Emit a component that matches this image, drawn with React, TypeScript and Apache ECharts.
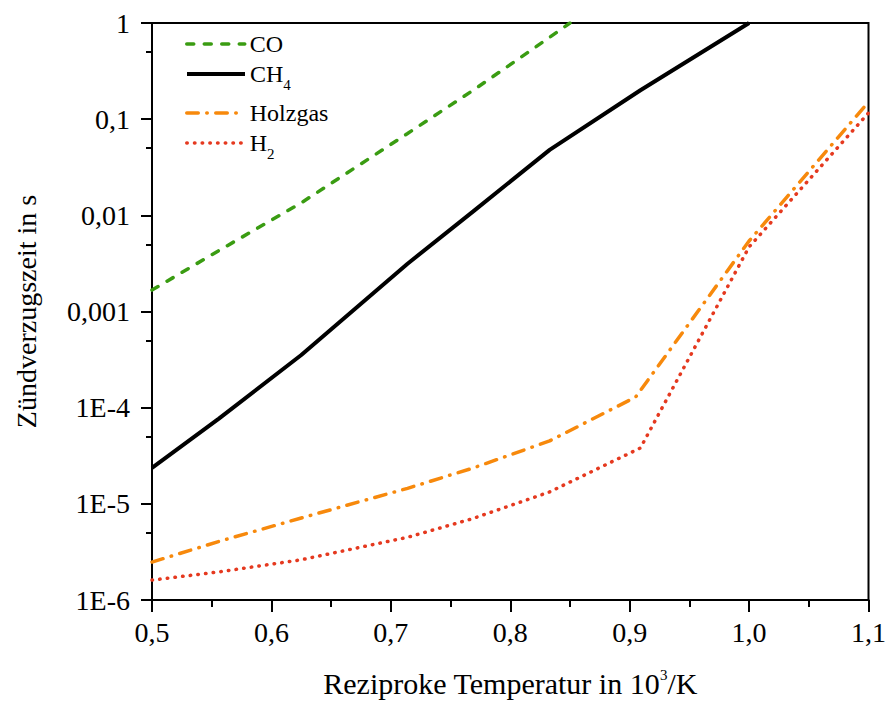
import React, { useEffect, useRef } from 'react';
import * as echarts from 'echarts';

// ---- data (x = reciprocal temperature in 10^3/K, y = ignition delay in s)
const xCO = [0.5, 0.556, 0.625, 0.714, 0.769, 0.833, 0.85];
const yCO = [0.00167, 0.0043, 0.0135, 0.071, 0.2, 0.71, 1.0];
const xCH4 = [0.5, 0.556, 0.625, 0.714, 0.769, 0.833, 0.909, 1.0];
const yCH4 = [2.36e-5, 7.7e-5, 3.53e-4, 3.14e-3, 0.011, 0.048, 0.2, 1.0];
const xHolzgas = [0.5, 0.556, 0.625, 0.714, 0.769, 0.833, 0.905, 1.0, 1.1];
const yHolzgas = [2.48e-6, 4.06e-6, 7.13e-6, 1.45e-5, 2.36e-5, 4.51e-5, 1.29e-4, 5.41e-3, 0.151];
const xH2 = [0.5, 0.556, 0.625, 0.714, 0.769, 0.833, 0.909, 1.0, 1.1];
const yH2 = [1.61e-6, 1.96e-6, 2.62e-6, 4.49e-6, 7.05e-6, 1.33e-5, 3.81e-5, 4.69e-3, 0.116];

const yMinorTicks = [5e-6, 5e-5, 5e-4, 5e-3, 0.05, 0.5];

const seriesNames = ['CO', 'CH4', 'Holzgas', 'H2'];
const legendLabels: Record<string, string> = {
  CO: 'CO',
  CH4: '{m|CH}{s|4}',
  Holzgas: 'Holzgas',
  H2: '{m|H}{s|2}',
};
const legendTops = [32, 62, 101, 131];

const FONT = 'Liberation Serif';

const pairs = (xs: number[], ys: number[]) => xs.map((x, i) => [x, ys[i]]);

function yLabel(v: number): string {
  const e = Math.round(Math.log10(v));
  if (e === 0) return '1';
  if (e >= -3) return '0,' + '0'.repeat(-e - 1) + '1';
  return '1E' + e;
}

export default function App() {
  const ref = useRef<HTMLDivElement>(null);

  useEffect(() => {
    if (!ref.current) return;
    const chart = echarts.init(ref.current, undefined, { renderer: 'svg' });

    const styles: Record<string, any> = {
      CO: { color: '#3a9c12', width: 3.5, type: [7, 10.5], cap: 'round' },
      CH4: { color: '#000000', width: 4, type: 'solid', cap: 'butt' },
      Holzgas: { color: '#f7890c', width: 3.5, type: [11.5, 8.5, 0.5, 8.5], cap: 'round' },
      H2: { color: '#e5391f', width: 3.5, type: [0.5, 7.2], cap: 'round' },
    };
    const dataMap: Record<string, number[][]> = {
      CO: pairs(xCO, yCO),
      CH4: pairs(xCH4, yCH4),
      Holzgas: pairs(xHolzgas, yHolzgas),
      H2: pairs(xH2, yH2),
    };

    const rich = {
      m: { fontFamily: FONT, fontSize: 24, color: '#000', verticalAlign: 'middle' },
      s: { fontFamily: FONT, fontSize: 15, color: '#000', verticalAlign: 'middle', padding: [22, 0, 0, 0] },
    };

    const option: any = {
      animation: false,
      backgroundColor: '#fff',
      textStyle: { fontFamily: FONT },
      grid: {
        left: 152,
        right: 17,
        top: 23,
        bottom: 104,
        show: true,
        borderColor: '#000',
        borderWidth: 2,
        backgroundColor: 'transparent',
      },
      legend: seriesNames.map((n, i) => ({
        data: [n],
        left: 185,
        top: legendTops[i],
        orient: 'vertical',
        padding: 0,
        itemGap: 0,
        itemWidth: 58,
        itemHeight: 14,
        selectedMode: false,
        itemStyle: { opacity: 0 },
        lineStyle: { width: styles[n].width },
        formatter: (name: string) => legendLabels[name],
        textStyle: { fontFamily: FONT, fontSize: 24, color: '#000', rich },
      })),
      xAxis: [
        {
          type: 'value',
          min: 0.5,
          max: 1.1,
          interval: 0.1,
          position: 'bottom',
          axisLine: { onZero: false, lineStyle: { color: '#000', width: 2 } },
          axisTick: { show: true, length: 12, lineStyle: { color: '#000', width: 2 } },
          minorTick: { show: true, splitNumber: 2, length: 7, lineStyle: { color: '#000', width: 2 } },
          splitLine: { show: false },
          minorSplitLine: { show: false },
          axisLabel: {
            fontFamily: FONT,
            fontSize: 28,
            color: '#000',
            margin: 18,
            formatter: (v: number) => v.toFixed(1).replace('.', ','),
          },
          name: 'Reziproke Temperatur in 10{sup|3}/K',
          nameLocation: 'middle',
          nameGap: 67,
          nameTextStyle: {
            fontFamily: FONT,
            fontSize: 30,
            color: '#000',
            rich: {
              sup: { fontFamily: FONT, fontSize: 15, color: '#000', padding: [0, 0, 17, 0] },
            },
          },
        },
      ],
      yAxis: [
        {
          type: 'log',
          logBase: 10,
          min: 1e-6,
          max: 1,
          position: 'left',
          axisLine: { show: true, onZero: false, lineStyle: { color: '#000', width: 2 } },
          axisTick: { show: true, length: 11, lineStyle: { color: '#000', width: 2 } },
          splitLine: { show: false },
          axisLabel: {
            fontFamily: FONT,
            fontSize: 28,
            color: '#000',
            margin: 22,
            formatter: (v: number) => yLabel(v),
          },
          name: 'Zündverzugszeit in s',
          nameLocation: 'middle',
          nameGap: 112,
          nameTextStyle: { fontFamily: FONT, fontSize: 28, color: '#000' },
        },
        {
          type: 'log',
          logBase: 10,
          min: 1e-6,
          max: 1,
          position: 'left',
          axisLine: { show: false },
          axisLabel: { show: false },
          splitLine: { show: false },
          axisTick: {
            show: true,
            length: 6,
            customValues: yMinorTicks,
            lineStyle: { color: '#000', width: 2 },
          },
        },
      ],
      series: seriesNames.map((n) => ({
        name: n,
        type: 'line',
        xAxisIndex: 0,
        yAxisIndex: 0,
        data: dataMap[n],
        symbol: 'none',
        showSymbol: false,
        smooth: false,
        clip: true,
        color: styles[n].color,
        lineStyle: styles[n],
        z: n === 'CH4' ? 3 : 2,
      })),
    };

    chart.setOption(option);
    return () => chart.dispose();
  }, []);

  return (
    <div
      ref={ref}
      style={{ position: 'fixed', left: 0, top: 0, width: 889, height: 704, background: '#fff' }}
    />
  );
}
